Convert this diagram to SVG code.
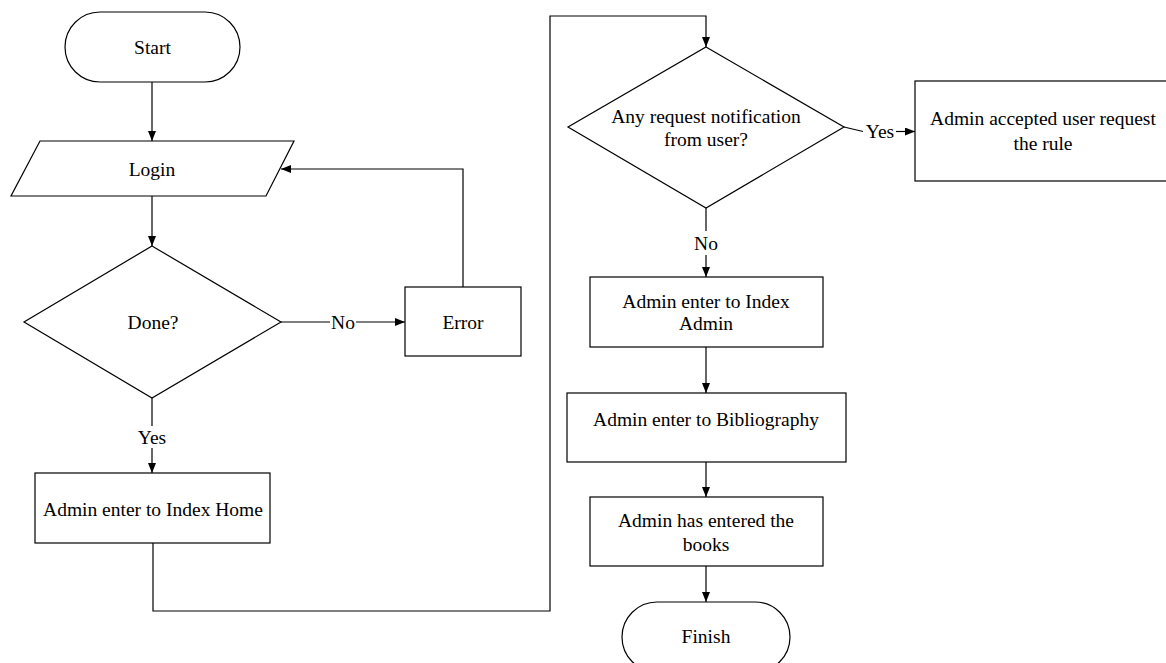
<svg xmlns="http://www.w3.org/2000/svg" width="1166" height="663" viewBox="0 0 1166 663">
<style>
.s{fill:#fff;stroke:#000;stroke-width:1.2}
.t{font-family:"Liberation Serif","Times New Roman",serif;font-size:19.5px;fill:#000;text-anchor:middle;dominant-baseline:central}
.c{fill:none;stroke:#000;stroke-width:1.2}
</style>
<defs>
<marker id="ah" markerWidth="10" markerHeight="8" refX="10" refY="4" orient="auto" markerUnits="userSpaceOnUse">
<path d="M0,0 L10,4 L0,8 Z" fill="#000"/>
</marker>
</defs>
<rect width="1166" height="663" fill="#fff"/>
<g id="connectors">
<line class="c" x1="152" y1="82" x2="152" y2="141" marker-end="url(#ah)"/>
<line class="c" x1="152" y1="196" x2="152" y2="246" marker-end="url(#ah)"/>
<line class="c" x1="281" y1="322" x2="330" y2="322"/>
<line class="c" x1="356" y1="322" x2="405" y2="322" marker-end="url(#ah)"/>
<text class="t" x="343" y="322">No</text>
<polyline class="c" points="463,287 463,169 281,169" marker-end="url(#ah)"/>
<line class="c" x1="152" y1="398" x2="152" y2="426"/>
<text class="t" x="152" y="437">Yes</text>
<line class="c" x1="152" y1="448" x2="152" y2="473" marker-end="url(#ah)"/>
<polyline class="c" points="153,543 153,611 550,611 550,16 706,16 706,47" marker-end="url(#ah)"/>
<polyline class="c" points="844,127 863,131.5"/>
<text class="t" x="880" y="131.5">Yes</text>
<line class="c" x1="896" y1="131.5" x2="915" y2="131.5" marker-end="url(#ah)"/>
<line class="c" x1="706" y1="208" x2="706" y2="231"/>
<text class="t" x="706" y="243">No</text>
<line class="c" x1="706" y1="255" x2="706" y2="277" marker-end="url(#ah)"/>
<line class="c" x1="706" y1="347" x2="706" y2="393" marker-end="url(#ah)"/>
<line class="c" x1="706" y1="462" x2="706" y2="497" marker-end="url(#ah)"/>
<line class="c" x1="706" y1="566" x2="706" y2="602" marker-end="url(#ah)"/>
</g>
<g id="start">
<rect class="s" x="65" y="12" width="175" height="70" rx="35" ry="35"/>
<text class="t" x="152.5" y="47">Start</text>
</g>
<g id="login">
<polygon class="s" points="40,141 294,141 266,196 11,196"/>
<text class="t" x="152" y="169">Login</text>
</g>
<g id="done">
<polygon class="s" points="152,246 281,322 152,398 24,322"/>
<text class="t" x="153" y="322">Done?</text>
</g>
<g id="error">
<rect class="s" x="405" y="287" width="116" height="69"/>
<text class="t" x="463" y="322">Error</text>
</g>
<g id="index-home">
<rect class="s" x="35" y="473" width="235" height="70"/>
<text class="t" x="153" y="509">Admin enter to Index Home</text>
</g>
<g id="request">
<polygon class="s" points="706,47 844,127 706,208 568,127"/>
<text class="t" x="706" y="116">Any request notification</text>
<text class="t" x="706" y="139">from user?</text>
</g>
<g id="accepted">
<rect class="s" x="915" y="81" width="256" height="100"/>
<text class="t" x="1043" y="118">Admin accepted user request</text>
<text class="t" x="1043" y="143">the rule</text>
</g>
<g id="index-admin">
<rect class="s" x="590" y="277" width="233" height="70"/>
<text class="t" x="706" y="301">Admin enter to Index</text>
<text class="t" x="706" y="323">Admin</text>
</g>
<g id="bibliography">
<rect class="s" x="567" y="393" width="279" height="69"/>
<text class="t" x="706" y="419">Admin enter to Bibliography</text>
</g>
<g id="books">
<rect class="s" x="590" y="497" width="233" height="69"/>
<text class="t" x="706" y="520">Admin has entered the</text>
<text class="t" x="706" y="544">books</text>
</g>
<g id="finish">
<rect class="s" x="622" y="602" width="168" height="70" rx="35" ry="35"/>
<text class="t" x="706" y="636">Finish</text>
</g>
</svg>
